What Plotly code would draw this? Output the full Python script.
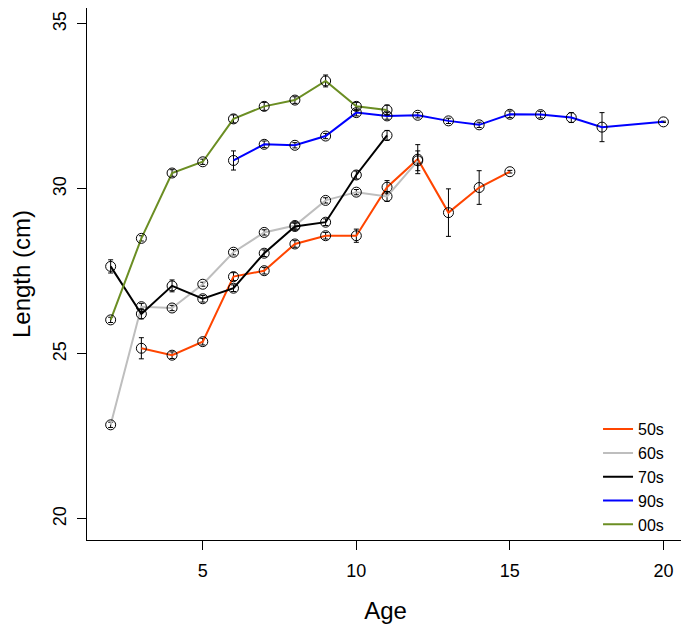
import plotly.graph_objects as go

# ---- data ----
ages_50s = [3, 4, 5, 6, 7, 8, 9, 10, 11, 12, 13, 14, 15]
len_50s = [25.17, 24.96, 25.37, 27.34, 27.52, 28.33, 28.58, 28.58, 30.05, 30.90, 29.28, 30.04, 30.52]
err_50s = [0.32, 0.10, 0.10, 0.12, 0.10, 0.10, 0.10, 0.20, 0.20, 0.44, 0.72, 0.51, 0.04]

ages_60s = [2, 3, 4, 5, 6, 7, 8, 9, 10, 11, 12]
len_60s = [22.85, 26.43, 26.39, 27.11, 28.08, 28.68, 28.89, 29.65, 29.90, 29.77, 30.85]
err_60s = [0.08, 0.10, 0.08, 0.06, 0.08, 0.08, 0.08, 0.08, 0.08, 0.15, 0.30]

ages_70s = [2, 3, 4, 5, 6, 7, 8, 9, 10, 11]
len_70s = [27.65, 26.21, 27.06, 26.67, 26.99, 28.05, 28.86, 28.99, 30.42, 31.62]
err_70s = [0.20, 0.15, 0.18, 0.10, 0.10, 0.10, 0.10, 0.10, 0.12, 0.15]

ages_90s = [6, 7, 8, 9, 10, 11, 12, 13, 14, 15, 16, 17, 18, 20]
len_90s = [30.86, 31.35, 31.32, 31.60, 32.31, 32.21, 32.23, 32.06, 31.94, 32.26, 32.25, 32.16, 31.87, 32.03]
err_90s = [0.29, 0.10, 0.08, 0.08, 0.10, 0.10, 0.08, 0.08, 0.08, 0.10, 0.10, 0.15, 0.44, 0.02]

ages_00s = [2, 3, 4, 5, 6, 7, 8, 9, 10, 11]
len_00s = [26.03, 28.50, 30.48, 30.82, 32.12, 32.50, 32.69, 33.27, 32.50, 32.39]
err_00s = [0.08, 0.08, 0.10, 0.08, 0.12, 0.12, 0.10, 0.18, 0.12, 0.15]

series_names = ["50s", "60s", "70s", "90s", "00s"]
series_colors = ["#FF4500", "#BEBEBE", "#000000", "#0000FF", "#6B8E23"]
series = [
    (ages_50s, len_50s, err_50s),
    (ages_60s, len_60s, err_60s),
    (ages_70s, len_70s, err_70s),
    (ages_90s, len_90s, err_90s),
    (ages_00s, len_00s, err_00s),
]

x_ticks = [5, 10, 15, 20]
y_ticks = [20, 25, 30, 35]

FONT = "Liberation Sans, Arial, sans-serif"

fig = go.Figure()

for name, color, (xs, ys, es) in zip(series_names, series_colors, series):
    fig.add_trace(go.Scatter(
        x=xs, y=ys, mode="lines+markers", name=name, showlegend=False,
        line=dict(color=color, width=2),
        marker=dict(symbol="circle-open", size=10, color="black", line=dict(color="black", width=1)),
        error_y=dict(type="data", array=es, visible=True, color="black", thickness=1, width=2.5),
    ))

# legend entries (lines only)
for name, color in zip(series_names, series_colors):
    fig.add_trace(go.Scatter(
        x=[None], y=[None], mode="lines", name=name,
        line=dict(color=color, width=2),
    ))

fig.update_layout(
    width=681, height=620,
    margin=dict(l=79, r=5, t=0, b=88),
    paper_bgcolor="white", plot_bgcolor="white",
    font=dict(family=FONT, color="black", size=15),
    showlegend=True,
    legend=dict(
        x=0.856, y=0.119, xanchor="left", yanchor="middle",
        bgcolor="rgba(0,0,0,0)", borderwidth=0,
        font=dict(size=16, family=FONT), itemwidth=30,
        tracegroupgap=0,
    ),
)

fig.update_xaxes(
    range=[1.23, 20.67], tickvals=x_ticks, ticktext=[str(v) for v in x_ticks],
    showgrid=False, zeroline=False, automargin=False,
    showline=True, linecolor="black", linewidth=1, mirror=True,
    ticks="outside", ticklen=9, tickcolor="black", ticklabelstandoff=5,
    tickfont=dict(size=18, family=FONT),
    title=dict(text="Age", font=dict(size=24, family=FONT), standoff=22),
)
fig.update_yaxes(
    range=[19.36, 35.48], tickvals=y_ticks, ticktext=[str(v) for v in y_ticks],
    showgrid=False, zeroline=False, automargin=False,
    showline=True, linecolor="black", linewidth=1, mirror=True,
    ticks="outside", ticklen=9, tickcolor="black", tickangle=-90, ticklabelstandoff=4,
    tickfont=dict(size=18, family=FONT),
    title=dict(text="Length (cm)", font=dict(size=24, family=FONT), standoff=26),
)

fig.write_html("out.html")
